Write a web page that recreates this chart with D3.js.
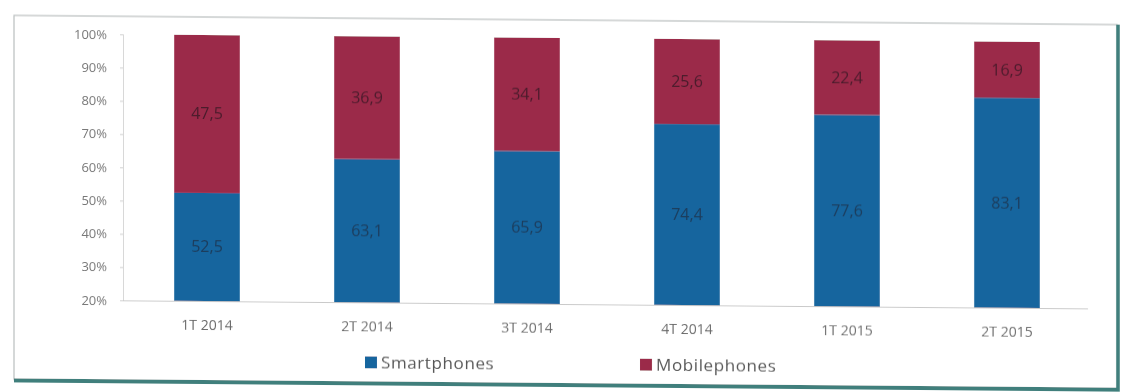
<!DOCTYPE html>
<html>
<head>
<meta charset="utf-8">
<script src="https://cdn.jsdelivr.net/npm/d3@7"></script>
<style>
  html, body { margin: 0; padding: 0; background: #ffffff; }
  svg { display: block; }
  text { font-family: "Open Sans", "Noto Sans", sans-serif; }
</style>
</head>
<body>
<svg id="chart" width="1125" height="392"></svg>
<script>
// Quarterly share of smartphones vs. feature phones (percent of units)
const quarters = ["1T 2014", "2T 2014", "3T 2014", "4T 2014", "1T 2015", "2T 2015"];
const smartphones = [52.5, 63.1, 65.9, 74.4, 77.6, 83.1];
const mobilephones = [47.5, 36.9, 34.1, 25.6, 22.4, 16.9];
const seriesNames = ["Smartphones", "Mobilephones"];
const yTicks = [20, 30, 40, 50, 60, 70, 80, 90, 100];

const colors = { Smartphones: "#16659e", Mobilephones: "#9b2a4a" };

const svg = d3.select("#chart");

// slight paper softness
const defs = svg.append("defs");
defs.append("filter").attr("id", "soft")
  .append("feGaussianBlur").attr("stdDeviation", 0.45);

// the card is sheared a little, right side lower than the left
const card = svg.append("g")
  .attr("transform", "translate(562,0) skewY(0.48) translate(-562,0)")
  .attr("filter", "url(#soft)");

// frame with a teal drop edge on right and bottom
card.append("rect")
  .attr("x", 14).attr("y", 20).attr("width", 1103).attr("height", 364)
  .attr("fill", "#ffffff").attr("stroke", "#b9bfbf").attr("stroke-width", 1.2);
card.append("line").attr("x1", 14).attr("x2", 1119).attr("y1", 385).attr("y2", 385)
  .attr("stroke", "#3f7f7c").attr("stroke-width", 4);
card.append("line").attr("x1", 1118).attr("x2", 1118).attr("y1", 20).attr("y2", 387)
  .attr("stroke", "#3f7f7c").attr("stroke-width", 3.5);

const x = d3.scaleBand().domain(quarters).range([127, 1087])
  .paddingInner(0.59).paddingOuter(0.295);
const y = d3.scaleLinear().domain([20, 100]).range([304, 38]);

const rows = quarters.map((q, i) => ({
  quarter: q, Smartphones: smartphones[i], Mobilephones: mobilephones[i]
}));
// stacked shares; the value axis starts at 20%, so bars are clipped to that floor
const stacked = d3.stack().keys(seriesNames)(rows);
stacked.forEach(layer => layer.forEach(d => { d.value = d.data[layer.key]; }));

// y axis
const yAxis = card.append("g").attr("transform", "translate(123,0)")
  .call(d3.axisLeft(y).tickValues(yTicks).tickFormat(d => d + "%").tickSize(3).tickPadding(13));
yAxis.select(".domain").attr("stroke", "#d8d8d8");
yAxis.selectAll(".tick line").attr("stroke", "#cfcfcf");
yAxis.selectAll(".tick text").attr("fill", "#777").attr("font-size", 13);

// x axis
const xAxis = card.append("g").attr("transform", "translate(0,304)")
  .call(d3.axisBottom(x).tickSize(0).tickPadding(19));
xAxis.select(".domain").attr("stroke", "#c9c9c9").attr("d", "M123,0.5H1088");
xAxis.selectAll(".tick text").attr("fill", "#6a6a6a").attr("font-size", 14);

// bars
const lo = d => y(Math.max(20, d[0]));
const hi = d => y(Math.max(20, d[1]));
const layers = card.append("g").selectAll("g").data(stacked).join("g")
  .attr("fill", d => colors[d.key]);
layers.selectAll("rect").data(d => d).join("rect")
  .attr("x", d => x(d.data.quarter))
  .attr("width", x.bandwidth())
  .attr("y", hi)
  .attr("height", d => lo(d) - hi(d));

// value labels with comma decimals
const fmt = d3.formatLocale({ decimal: ",", thousands: " ", grouping: [3], currency: ["", ""] }).format(".1f");
layers.each(function(layer) {
  d3.select(this).selectAll("text").data(layer).join("text")
    .attr("x", d => x(d.data.quarter) + x.bandwidth() / 2)
    .attr("y", d => (lo(d) + hi(d)) / 2 + 5.5)
    .attr("text-anchor", "middle")
    .attr("font-size", 16)
    .attr("fill", layer.key === "Smartphones" ? "#1d3550" : "#3b1a26")
    .attr("fill-opacity", 0.85)
    .text(d => fmt(d.value));
});

// legend
const legendPos = { Smartphones: 365, Mobilephones: 640 };
const legend = card.append("g").selectAll("g").data(seriesNames).join("g")
  .attr("transform", d => `translate(${legendPos[d]},364)`);
legend.append("rect").attr("x", 0).attr("y", -6).attr("width", 12).attr("height", 12)
  .attr("fill", d => colors[d]);
legend.append("text").attr("x", 16).attr("y", 6)
  .attr("font-size", 17).attr("letter-spacing", 0.6).attr("fill", "#555")
  .text(d => d);
</script>
</body>
</html>
